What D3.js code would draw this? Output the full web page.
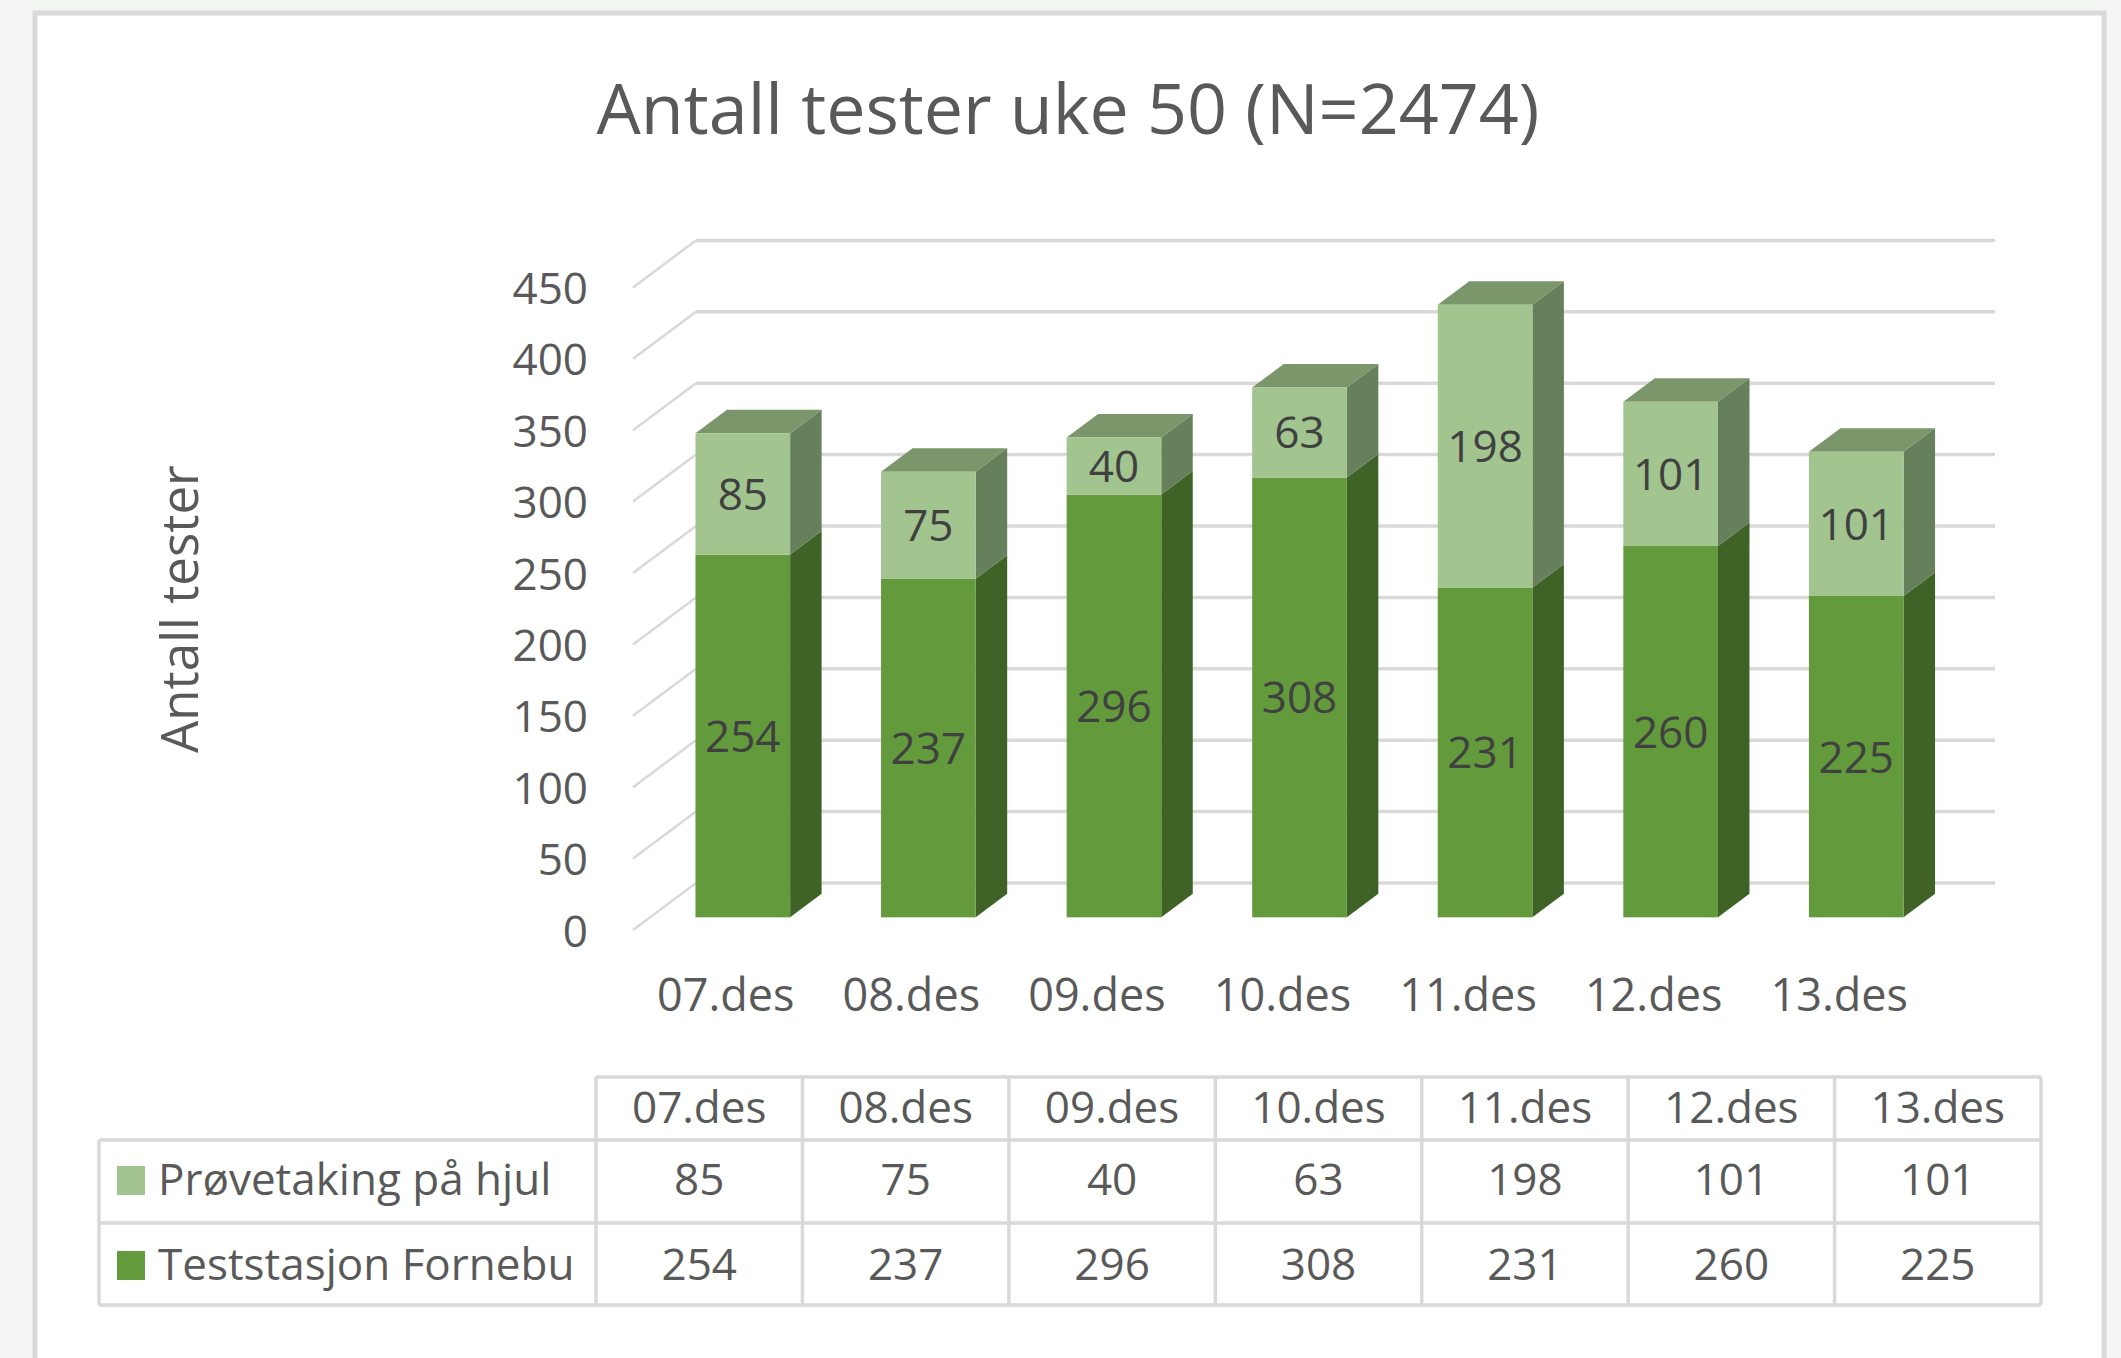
<!DOCTYPE html>
<html>
<head>
<meta charset="utf-8">
<script src="https://cdn.jsdelivr.net/npm/d3@7"></script>
<style>
  html, body { margin: 0; padding: 0; background: #f3f5f2; }
  svg { display: block; font-family: "Open Sans", sans-serif; }
</style>
</head>
<body>
<svg id="chart" width="2121" height="1358"></svg>
<script>
// data
const categories = ['07.des', '08.des', '09.des', '10.des', '11.des', '12.des', '13.des'];
const proevetaking = [85, 75, 40, 63, 198, 101, 101];
const teststasjon = [254, 237, 296, 308, 231, 260, 225];
const yTicks = [0, 50, 100, 150, 200, 250, 300, 350, 400, 450];
const seriesNames = ['Prøvetaking på hjul', 'Teststasjon Fornebu'];

const svg = d3.select('#chart');

// panel
svg.append('rect')
  .attr('x', 35).attr('y', 13)
  .attr('width', 2069).attr('height', 1360)
  .attr('fill', '#fff')
  .attr('stroke', '#d9d9d9')
  .attr('stroke-width', 5);

// title
svg.append('text')
  .attr('x', 1068).attr('y', 134)
  .attr('text-anchor', 'middle')
  .attr('font-size', 70)
  .attr('fill', '#595959')
  .text('Antall tester uke 50 (N=2474)');

// 3d geometry: front plane + depth vector
const depth = { dx: 63, dy: -47 };
const x = d3.scaleBand().domain(categories).range([633, 1932]).padding(0);
const y = d3.scaleLinear().domain([0, 450]).range([930, 287.4]);
const zFront = 0.27, zDepth = 0.5, barFrac = 0.51;

// side wall + back wall gridlines
const grid = svg.append('g').attr('stroke', '#d9d9d9').attr('fill', 'none');
yTicks.forEach(t => {
  const yf = y(t), yb = y(t) + depth.dy;
  grid.append('line')
    .attr('x1', x.range()[0]).attr('y1', yf)
    .attr('x2', x.range()[0] + depth.dx).attr('y2', yb)
    .attr('stroke-width', 2.5);
  grid.append('line')
    .attr('x1', x.range()[0] + depth.dx).attr('y1', yb)
    .attr('x2', x.range()[1] + depth.dx).attr('y2', yb)
    .attr('stroke-width', 3.5);
});

// y axis labels
const yAxis = svg.append('g')
  .attr('transform', 'translate(598,2)')
  .call(d3.axisLeft(y).tickValues(yTicks).tickSize(0).tickPadding(10));
yAxis.select('.domain').remove();
yAxis.selectAll('text')
  .attr('font-family', '"Open Sans", sans-serif')
  .attr('font-size', 44)
  .attr('fill', '#595959');

// axis title
svg.append('text')
  .attr('transform', 'translate(198,609) rotate(-90)')
  .attr('text-anchor', 'middle')
  .attr('font-size', 51)
  .attr('fill', '#595959')
  .text('Antall tester');

// stacked 3d bars
const colors = {
  light: { front: '#a2c48f', side: '#65805a', top: '#7a966a' },
  dark:  { front: '#629a3c', side: '#3f6327', top: '#4f7b31' }
};
const bw = x.bandwidth() * barFrac;
const ox = zFront * depth.dx, oy = zFront * depth.dy;
const sx = zDepth * depth.dx, sy = zDepth * depth.dy;

const bars = svg.append('g');
categories.forEach((c, i) => {
  const x0 = x(c) + (x.bandwidth() - bw) / 2 + ox;
  const segs = [
    { v0: 0, v1: teststasjon[i], col: colors.dark, label: teststasjon[i] },
    { v0: teststasjon[i], v1: teststasjon[i] + proevetaking[i], col: colors.light, label: proevetaking[i] }
  ];
  const g = bars.append('g');
  segs.forEach((s, k) => {
    const yb = y(s.v0) + oy, yt = y(s.v1) + oy;
    // right side
    g.append('path')
      .attr('d', `M${x0 + bw},${yb} L${x0 + bw + sx},${yb + sy} L${x0 + bw + sx},${yt + sy} L${x0 + bw},${yt} Z`)
      .attr('fill', s.col.side);
    // top only on the last segment
    if (k === segs.length - 1) {
      g.append('path')
        .attr('d', `M${x0},${yt} L${x0 + sx},${yt + sy} L${x0 + bw + sx},${yt + sy} L${x0 + bw},${yt} Z`)
        .attr('fill', s.col.top);
    }
    g.append('rect')
      .attr('x', x0).attr('y', yt)
      .attr('width', bw).attr('height', yb - yt)
      .attr('fill', s.col.front);
    g.append('text')
      .attr('x', x0 + bw / 2).attr('y', (yb + yt) / 2)
      .attr('dy', '0.36em')
      .attr('text-anchor', 'middle')
      .attr('font-size', 44)
      .attr('fill', '#404040')
      .text(s.label);
  });
});

// category labels
const xAxis = svg.append('g')
  .attr('transform', 'translate(0,979)')
  .call(d3.axisBottom(x).tickSize(0).tickPadding(0));
xAxis.select('.domain').remove();
xAxis.selectAll('text')
  .attr('font-family', '"Open Sans", sans-serif')
  .attr('font-size', 45)
  .attr('fill', '#595959');

// data table
const tx = d3.scaleBand().domain(categories).range([596, 2041]);
const rowY = [1077, 1140, 1223, 1305];
const tLeft = 99, tRight = 2041;
const tbl = svg.append('g').attr('stroke', '#d9d9d9').attr('stroke-width', 3.5);
tbl.append('line').attr('x1', tx.range()[0]).attr('x2', tRight).attr('y1', rowY[0]).attr('y2', rowY[0]);
rowY.slice(1).forEach(r => {
  tbl.append('line').attr('x1', tLeft).attr('x2', tRight).attr('y1', r).attr('y2', r);
});
tbl.append('line').attr('x1', tLeft).attr('x2', tLeft).attr('y1', rowY[1]).attr('y2', rowY[3]);
categories.forEach(c => {
  tbl.append('line').attr('x1', tx(c)).attr('x2', tx(c)).attr('y1', rowY[0]).attr('y2', rowY[3]);
});
tbl.append('line').attr('x1', tRight).attr('x2', tRight).attr('y1', rowY[0]).attr('y2', rowY[3]);

const tText = svg.append('g').attr('font-size', 44).attr('fill', '#595959').attr('text-anchor', 'middle');
categories.forEach((c, i) => {
  const cx = tx(c) + tx.bandwidth() / 2;
  tText.append('text').attr('x', cx).attr('y', 1123).text(c);
  tText.append('text').attr('x', cx).attr('y', 1195).text(proevetaking[i]);
  tText.append('text').attr('x', cx).attr('y', 1280).text(teststasjon[i]);
});

const legendRows = [
  { name: seriesNames[0], color: colors.light.front, base: 1195 },
  { name: seriesNames[1], color: colors.dark.front, base: 1280 }
];
legendRows.forEach(r => {
  svg.append('rect')
    .attr('x', 117).attr('y', r.base - 29)
    .attr('width', 28).attr('height', 29)
    .attr('fill', r.color);
  svg.append('text')
    .attr('x', 158).attr('y', r.base)
    .attr('font-size', 44)
    .attr('fill', '#595959')
    .text(r.name);
});
</script>
</body>
</html>
